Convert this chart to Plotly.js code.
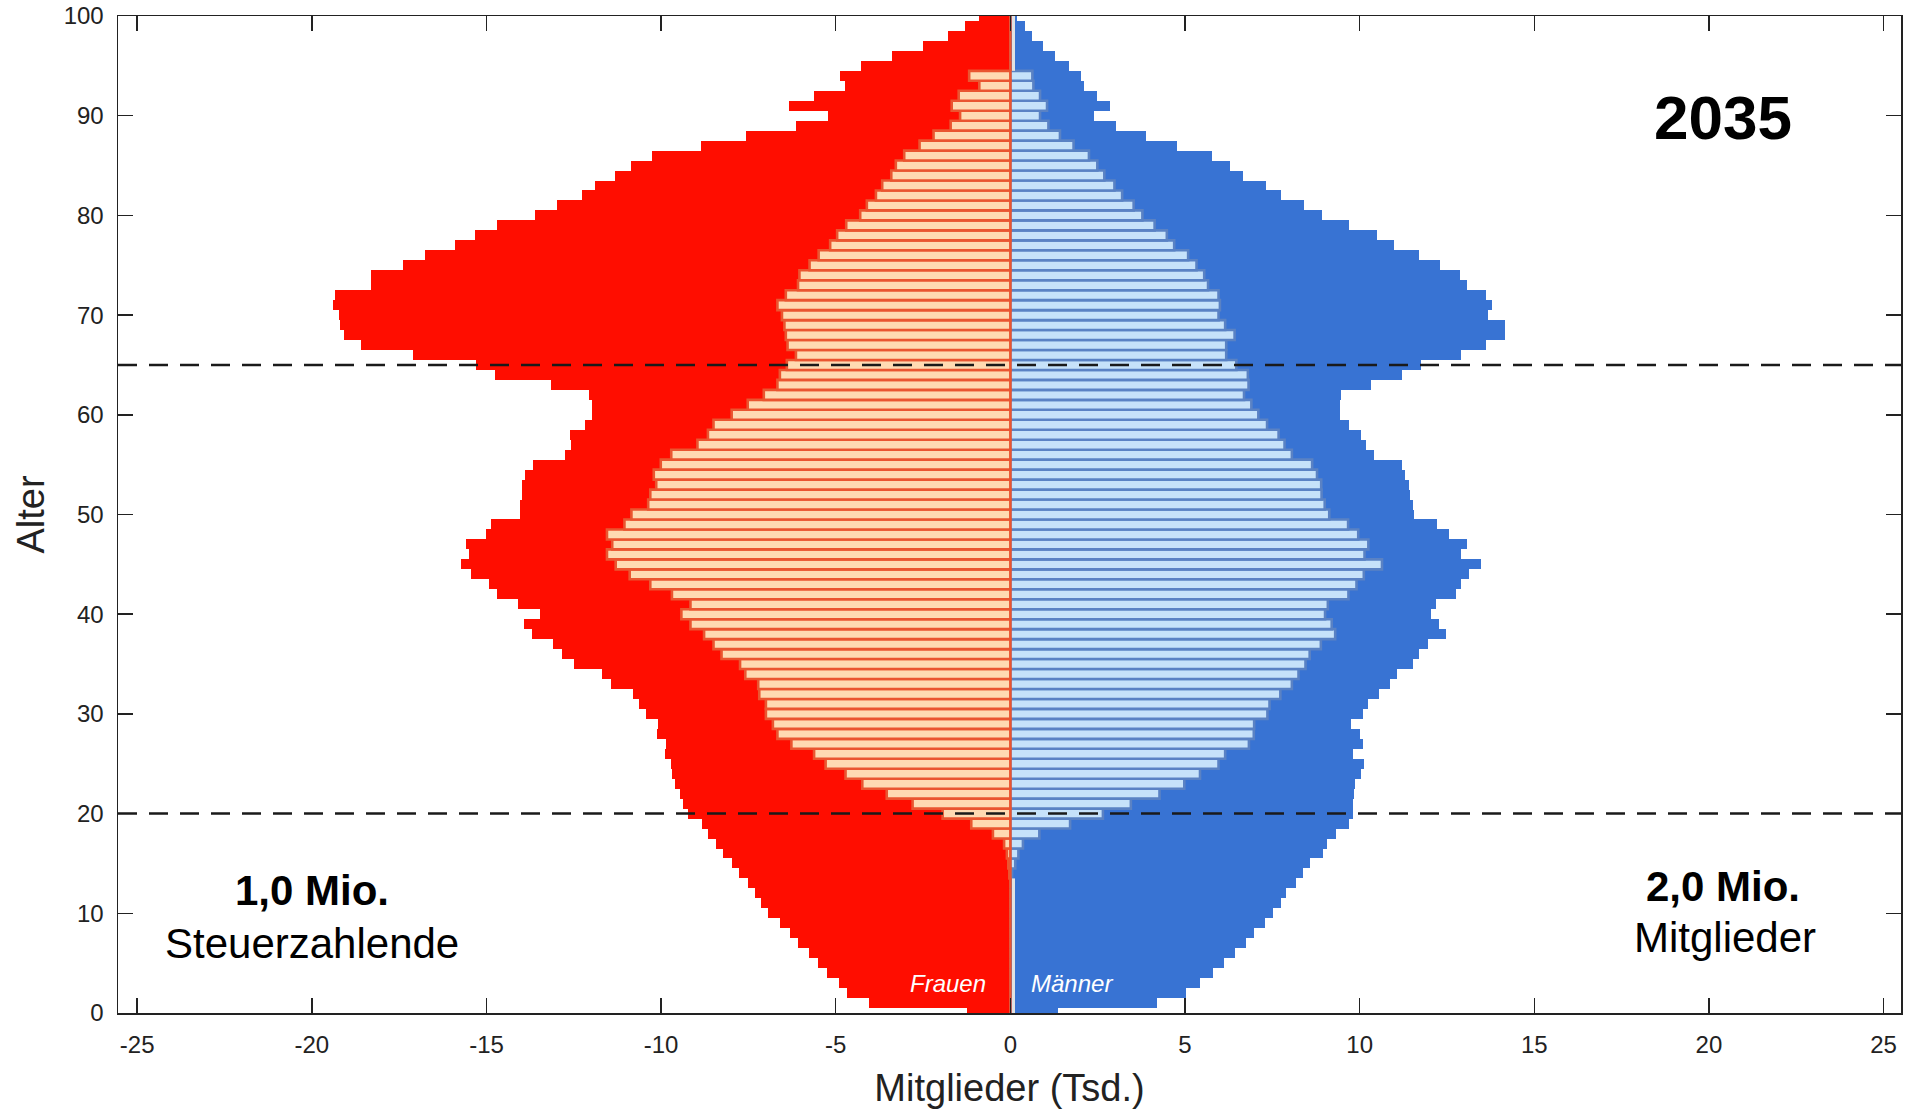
<!DOCTYPE html>
<html>
<head>
<meta charset="utf-8">
<script src="https://cdn.plot.ly/plotly-3.0.1.min.js"></script>
<style>
html,body{margin:0;padding:0;background:#ffffff;}
#chart{width:1907px;height:1111px;}
</style>
</head>
<body>
<div id="chart"></div>
<script>
// Age categories (years)
const ages = [0,1,2,3,4,5,6,7,8,9,10,11,12,13,14,15,16,17,18,19,20,21,22,23,24,25,26,27,28,29,30,31,32,33,34,35,36,37,38,39,40,41,42,43,44,45,46,47,48,49,50,51,52,53,54,55,56,57,58,59,60,61,62,63,64,65,66,67,68,69,70,71,72,73,74,75,76,77,78,79,80,81,82,83,84,85,86,87,88,89,90,91,92,93,94,95,96,97,98,99,100];

// Frauen – Mitglieder gesamt (Tsd., negativ = linke Seite)
const womenTotal = [
 -1.25,-4.04,-4.68,-4.90,-5.24,-5.52,-5.78,-6.07,-6.32,-6.60,
 -6.93,-7.13,-7.32,-7.52,-7.78,-7.98,-8.24,-8.44,-8.66,-8.83,
 -9.23,-9.36,-9.45,-9.60,-9.68,-9.72,-9.90,-9.85,-10.12,-10.10,
 -10.42,-10.64,-10.80,-11.43,-11.69,-12.50,-12.85,-13.10,-13.71,-13.92,
 -13.47,-14.09,-14.69,-14.94,-15.45,-15.72,-15.49,-15.60,-15.02,-14.88,
 -14.03,-14.03,-13.99,-13.99,-13.89,-13.66,-12.75,-12.57,-12.61,-12.18,
 -11.97,-11.97,-12.07,-13.14,-14.76,-15.30,-17.10,-18.58,-19.07,-19.20,
 -19.22,-19.40,-19.33,-18.32,-18.32,-17.40,-16.77,-15.90,-15.33,-14.71,
 -13.60,-12.97,-12.27,-11.88,-11.31,-10.87,-10.26,-8.86,-7.56,-6.14,
 -5.22,-6.34,-5.62,-4.74,-4.89,-4.28,-3.39,-2.49,-1.78,-1.29,
 -0.89];

// Frauen – Steuerzahlende (Tsd.)
const womenTax = [
 0,0,0,0,0,0,0,0,0,0,
 0,0,0,0,-0.03,-0.06,-0.10,-0.18,-0.50,-1.12,
 -1.94,-2.80,-3.54,-4.24,-4.72,-5.29,-5.62,-6.27,-6.67,-6.80,
 -7.00,-7.00,-7.19,-7.22,-7.59,-7.74,-8.27,-8.50,-8.77,-9.16,
 -9.42,-9.16,-9.69,-10.31,-10.90,-11.30,-11.55,-11.40,-11.55,-11.05,
 -10.85,-10.37,-10.31,-10.14,-10.21,-10.01,-9.71,-8.96,-8.66,-8.50,
 -7.98,-7.52,-7.06,-6.67,-6.60,-6.40,-6.14,-6.38,-6.43,-6.47,
 -6.54,-6.67,-6.43,-6.08,-6.04,-5.75,-5.49,-5.16,-4.96,-4.70,
 -4.30,-4.11,-3.85,-3.67,-3.41,-3.28,-3.04,-2.60,-2.20,-1.71,
 -1.44,-1.68,-1.48,-0.89,-1.18,0,0,0,0,0,
 0];

// Männer – Mitglieder gesamt (Tsd.)
const menTotal = [
 1.36,4.20,5.02,5.44,5.79,6.11,6.42,6.75,6.97,7.29,
 7.53,7.75,7.89,8.19,8.38,8.58,8.96,9.06,9.31,9.69,
 9.80,9.80,9.83,9.86,10.04,10.13,9.80,10.10,10.01,9.75,
 10.09,10.23,10.56,10.88,11.08,11.53,11.71,11.97,12.46,12.27,
 12.04,12.18,12.75,12.90,13.12,13.48,12.91,13.06,12.55,12.22,
 11.56,11.52,11.43,11.42,11.31,11.20,10.40,10.19,10.04,9.69,
 9.44,9.45,9.46,10.33,11.22,11.75,12.91,13.62,14.17,14.17,
 13.68,13.79,13.62,13.08,12.86,12.31,11.71,10.97,10.49,9.69,
 8.93,8.42,7.75,7.31,6.67,6.28,5.76,4.78,3.89,3.01,
 2.38,2.84,2.47,2.10,2.03,1.67,1.27,0.94,0.63,0.41,
 0.20];

// Männer – Steuerzahlende (Tsd.)
const menTax = [
 0,0,0,0,0,0,0,0,0,0,
 0,0,0,0,0.05,0.14,0.23,0.36,0.83,1.71,
 2.65,3.45,4.27,4.98,5.43,5.96,6.15,6.83,6.97,6.98,
 7.36,7.42,7.73,8.06,8.25,8.45,8.57,8.89,9.30,9.20,
 9.01,9.09,9.68,9.91,10.12,10.64,10.14,10.25,9.96,9.67,
 9.13,9.00,8.91,8.90,8.78,8.64,8.06,7.85,7.68,7.35,
 7.10,6.90,6.69,6.82,6.80,6.47,6.18,6.18,6.42,6.15,
 5.96,6.00,5.96,5.66,5.55,5.33,5.09,4.69,4.48,4.13,
 3.78,3.53,3.20,2.98,2.69,2.49,2.25,1.81,1.42,1.09,
 0.85,1.05,0.85,0.66,0.63,0,0,0,0,0,
 0];

// Axis ticks
const xTickVals = [-25,-20,-15,-10,-5,0,5,10,15,20,25];
const xTickText = ['-25','-20','-15','-10','-5','0','5','10','15','20','25'];
const yTickVals = [0,10,20,30,40,50,60,70,80,90,100];
const yTickText = ['0','10','20','30','40','50','60','70','80','90','100'];

// Reference age lines
const markerAges = [20, 65];

// Texts
const yearLabel = '2035';
const leftBig = '1,0 Mio.';
const leftSmall = 'Steuerzahlende';
const rightBig = '2,0 Mio.';
const rightSmall = 'Mitglieder';

const FONT = '"Liberation Sans", Arial, Helvetica, sans-serif';

const traces = [
  {type:'bar', orientation:'h', y:ages, x:womenTotal, width:1, name:'Frauen gesamt',
   marker:{color:'#FF0D00', line:{width:0}}, hoverinfo:'skip'},
  {type:'bar', orientation:'h', y:ages, x:menTotal, width:1, name:'Männer gesamt',
   marker:{color:'#3873D3', line:{width:0}}, hoverinfo:'skip'},
  {type:'bar', orientation:'h', y:ages, x:menTax, width:1, name:'Männer Steuerzahlende',
   marker:{color:'#C6E2FA', line:{width:2.6, color:'#5A82C4'}}, hoverinfo:'skip'},
  {type:'bar', orientation:'h', y:ages, x:womenTax, width:1, name:'Frauen Steuerzahlende',
   marker:{color:'#FFDAB2', line:{width:2.6, color:'#EA5530'}}, hoverinfo:'skip'}
];

// thin light separator at the centre where no taxpayer bars are drawn
const taxAges = ages.filter((a, i) => menTax[i] !== 0 || womenTax[i] !== 0);
const taxLow = Math.min(...taxAges) - 0.5;
const taxHigh = Math.max(...taxAges) + 0.5;
const shapes = [
  {type:'line', xref:'x', yref:'y', x0:0.09, x1:0.09, y0:0, y1:taxLow,
   line:{color:'#e2e2e2', width:3}, layer:'above'},
  {type:'line', xref:'x', yref:'y', x0:0.09, x1:0.09, y0:taxHigh, y1:100,
   line:{color:'#e2e2e2', width:3}, layer:'above'}
];
markerAges.forEach(a => shapes.push({
  type:'line', xref:'paper', yref:'y', x0:0, x1:1, y0:a, y1:a,
  line:{color:'#1a1a1a', width:2.5, dash:'19px,12px'}, layer:'above'
}));

const annotations = [
  {text:yearLabel, x:20.4, y:89.8, xref:'x', yref:'y', showarrow:false,
   font:{family:FONT, size:62, color:'#000', weight:'bold'}},
  {text:leftBig, x:-20.0, y:12.3, xref:'x', yref:'y', showarrow:false,
   font:{family:FONT, size:42, color:'#000', weight:'bold'}},
  {text:leftSmall, x:-20.0, y:7.0, xref:'x', yref:'y', showarrow:false,
   font:{family:FONT, size:42, color:'#000'}},
  {text:rightBig, x:20.4, y:12.7, xref:'x', yref:'y', showarrow:false,
   font:{family:FONT, size:42, color:'#000', weight:'bold'}},
  {text:rightSmall, x:20.45, y:7.6, xref:'x', yref:'y', showarrow:false,
   font:{family:FONT, size:42, color:'#000'}},
  {text:'Frauen', x:-0.65, y:3.0, xref:'x', yref:'y', xanchor:'right', showarrow:false,
   font:{family:FONT, size:24, color:'#ffffff', style:'italic'}},
  {text:'Männer', x:0.52, y:3.0, xref:'x', yref:'y', xanchor:'left', showarrow:false,
   font:{family:FONT, size:24, color:'#ffffff', style:'italic'}}
];

const axisCommon = {
  ticks:'inside', ticklen:15, tickwidth:1.5, tickcolor:'#222',
  showline:true, mirror:'ticks', linecolor:'#222', linewidth:1.5,
  zeroline:false, showgrid:false,
  tickfont:{family:FONT, size:24, color:'#222'}
};

const layout = {
  width:1907, height:1111,
  margin:{l:118, r:6, t:16, b:98},
  paper_bgcolor:'#ffffff', plot_bgcolor:'#ffffff',
  barmode:'overlay', bargap:0, showlegend:false,
  font:{family:FONT, color:'#222'},
  xaxis:Object.assign({}, axisCommon, {
    range:[-25.55, 25.5], tickmode:'array', tickvals:xTickVals, ticktext:xTickText,
    ticklabelstandoff:10,
    title:{text:'Mitglieder (Tsd.)', font:{family:FONT, size:38, color:'#222'}, standoff:17}
  }),
  yaxis:Object.assign({}, axisCommon, {
    range:[0, 100], tickmode:'array', tickvals:yTickVals, ticktext:yTickText,
    ticklabelstandoff:8,
    title:{text:'Alter', font:{family:FONT, size:38, color:'#222'}, standoff:7}
  }),
  shapes:shapes,
  annotations:annotations
};

Plotly.newPlot('chart', traces, layout, {staticPlot:true, displayModeBar:false});
</script>
</body>
</html>
